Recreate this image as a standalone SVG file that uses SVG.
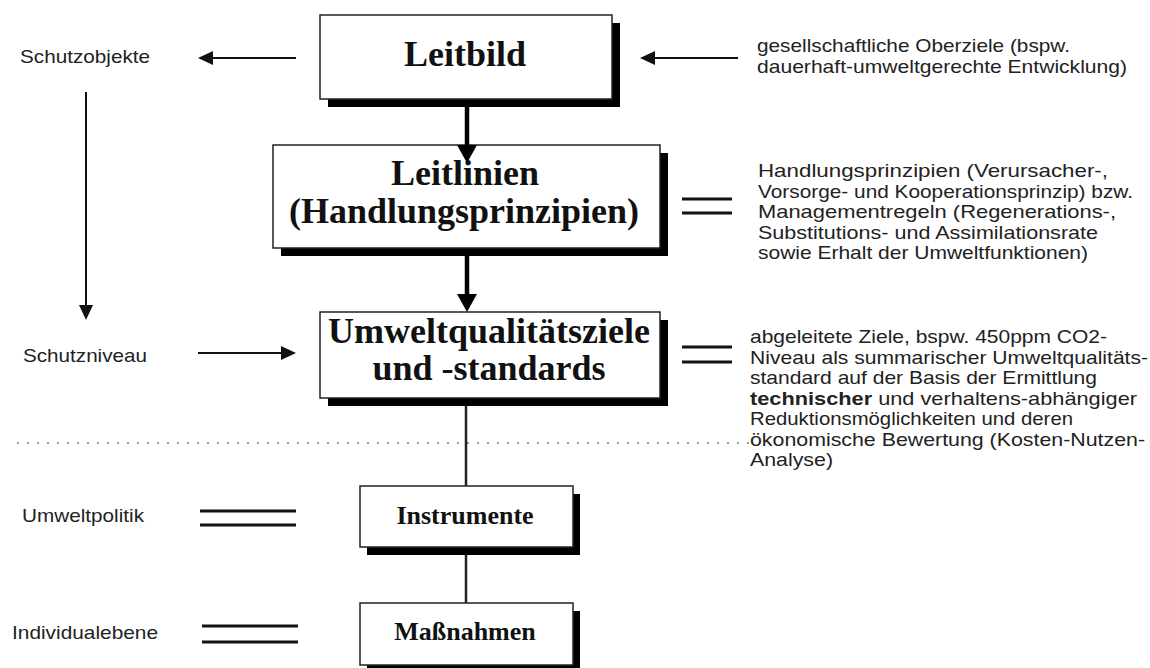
<svg xmlns="http://www.w3.org/2000/svg" width="1150" height="668" viewBox="0 0 1150 668">
  <style>
    .box { fill: #ffffff; stroke: #222222; stroke-width: 1.5; }
    .shadow { fill: #000000; }
    .title { font-family: "Liberation Serif", "Times New Roman", serif; font-weight: bold; fill: #111111; text-anchor: middle; }
    .big { font-size: 36px; }
    .small { font-size: 26px; }
    .label { font-family: "Liberation Sans", Arial, sans-serif; font-size: 19px; fill: #222222; }
    .thin { stroke: #111111; stroke-width: 2; fill: none; }
    .thick { stroke: #000000; stroke-width: 4.5; fill: none; }
    .link { stroke: #222222; stroke-width: 2.5; fill: none; }
    .eq { stroke: #111111; stroke-width: 3; fill: none; }
    .dots { stroke: #999999; stroke-width: 2; stroke-dasharray: 2 8; fill: none; }
  </style>
  <defs>
    <marker id="head" markerUnits="userSpaceOnUse" markerWidth="15" markerHeight="14" refX="0" refY="7" orient="auto">
      <path d="M0,0 L15,7 L0,14 z" fill="#111111"/>
    </marker>
    <marker id="headBig" markerUnits="userSpaceOnUse" markerWidth="18" markerHeight="20" refX="0" refY="10" orient="auto">
      <path d="M0,0 L18,10 L0,20 z" fill="#000000"/>
    </marker>
  </defs>

  <rect width="1150" height="668" fill="#ffffff"/>

  <!-- level separator -->
  <line class="dots" x1="17" y1="443" x2="750" y2="443"/>

  <!-- boxes -->
  <g id="leitbild">
    <rect class="shadow" x="328" y="23" width="292" height="84"/>
    <rect class="box" x="320" y="15" width="292" height="84"/>
    <text class="title big" x="465" y="66">Leitbild</text>
  </g>

  <g id="leitlinien">
    <rect class="shadow" x="281" y="153" width="387" height="103"/>
    <rect class="box" x="273" y="145" width="387" height="103"/>
    <text class="title big"><tspan x="465" y="185">Leitlinien</tspan><tspan x="464" y="223">(Handlungsprinzipien)</tspan></text>
  </g>

  <g id="umweltqualitaetsziele">
    <rect class="shadow" x="328" y="320" width="340" height="86"/>
    <rect class="box" x="320" y="312" width="340" height="86"/>
    <text class="title big"><tspan x="489" y="343">Umweltqualitätsziele</tspan><tspan x="489" y="380">und -standards</tspan></text>
  </g>

  <g id="instrumente">
    <rect class="shadow" x="367" y="494" width="213" height="61"/>
    <rect class="box" x="360" y="486" width="213" height="61"/>
    <text class="title small" x="465" y="524">Instrumente</text>
  </g>

  <g id="massnahmen">
    <rect class="shadow" x="367" y="611" width="213" height="62"/>
    <rect class="box" x="360" y="603" width="213" height="62"/>
    <text class="title small" x="465" y="640">Maßnahmen</text>
  </g>

  <!-- side labels -->
  <g id="schutzobjekte">
    <text class="label" x="20" y="63" textLength="130" lengthAdjust="spacingAndGlyphs">Schutzobjekte</text>
  </g>
  <g id="schutzniveau">
    <text class="label" x="23" y="362" textLength="124" lengthAdjust="spacingAndGlyphs">Schutzniveau</text>
  </g>
  <g id="umweltpolitik">
    <text class="label" x="22" y="522" textLength="122" lengthAdjust="spacingAndGlyphs">Umweltpolitik</text>
  </g>
  <g id="individualebene">
    <text class="label" x="12" y="639" textLength="146" lengthAdjust="spacingAndGlyphs">Individualebene</text>
  </g>

  <g id="oberziele">
    <text class="label" x="757" y="52" textLength="313" lengthAdjust="spacingAndGlyphs">gesellschaftliche Oberziele (bspw.</text>
    <text class="label" x="757" y="73" textLength="370" lengthAdjust="spacingAndGlyphs">dauerhaft-umweltgerechte Entwicklung)</text>
  </g>

  <g id="handlungsprinzipien">
    <text class="label" x="758" y="177" textLength="350" lengthAdjust="spacingAndGlyphs">Handlungsprinzipien (Verursacher-,</text>
    <text class="label" x="758" y="197.5" textLength="375" lengthAdjust="spacingAndGlyphs">Vorsorge- und Kooperationsprinzip) bzw.</text>
    <text class="label" x="758" y="218" textLength="358" lengthAdjust="spacingAndGlyphs">Managementregeln (Regenerations-,</text>
    <text class="label" x="758" y="238.5" textLength="340" lengthAdjust="spacingAndGlyphs">Substitutions- und Assimilationsrate</text>
    <text class="label" x="758" y="259" textLength="330" lengthAdjust="spacingAndGlyphs">sowie Erhalt der Umweltfunktionen)</text>
  </g>

  <g id="abgeleitete-ziele">
    <text class="label" x="750" y="343" textLength="357" lengthAdjust="spacingAndGlyphs">abgeleitete Ziele, bspw. 450ppm CO2-</text>
    <text class="label" x="750" y="363.5" textLength="398" lengthAdjust="spacingAndGlyphs">Niveau als summarischer Umweltqualitäts-</text>
    <text class="label" x="750" y="384" textLength="347" lengthAdjust="spacingAndGlyphs">standard auf der Basis der Ermittlung</text>
    <text class="label" x="750" y="404.5" textLength="387" lengthAdjust="spacingAndGlyphs"><tspan font-weight="bold">technischer</tspan> und verhaltens-abhängiger</text>
    <text class="label" x="750" y="425" textLength="323" lengthAdjust="spacingAndGlyphs">Reduktionsmöglichkeiten und deren</text>
    <text class="label" x="750" y="445.5" textLength="395" lengthAdjust="spacingAndGlyphs">ökonomische Bewertung (Kosten-Nutzen-</text>
    <text class="label" x="750" y="466" textLength="83" lengthAdjust="spacingAndGlyphs">Analyse)</text>
  </g>

  <!-- connectors -->
  <g id="connectors">
    <line class="thick" x1="467" y1="107" x2="467" y2="145" marker-end="url(#headBig)"/>
    <line class="thick" x1="467" y1="256" x2="467" y2="294" marker-end="url(#headBig)"/>
    <line class="link" x1="466" y1="406" x2="466" y2="486"/>
    <line class="link" x1="466" y1="555" x2="466" y2="603"/>

    <line class="thin" x1="296" y1="58" x2="213" y2="58" marker-end="url(#head)"/>
    <line class="thin" x1="738" y1="58" x2="655" y2="58" marker-end="url(#head)"/>
    <line class="thin" x1="86" y1="92" x2="86" y2="305" marker-end="url(#head)"/>
    <line class="thin" x1="198" y1="353" x2="281" y2="353" marker-end="url(#head)"/>

    <line class="eq" x1="682" y1="199" x2="732" y2="199"/>
    <line class="eq" x1="682" y1="213" x2="732" y2="213"/>
    <line class="eq" x1="682" y1="347" x2="732" y2="347"/>
    <line class="eq" x1="682" y1="362" x2="732" y2="362"/>
    <line class="eq" x1="200" y1="511" x2="296" y2="511"/>
    <line class="eq" x1="200" y1="525" x2="296" y2="525"/>
    <line class="eq" x1="202" y1="626" x2="298" y2="626"/>
    <line class="eq" x1="202" y1="642" x2="298" y2="642"/>
  </g>
</svg>
